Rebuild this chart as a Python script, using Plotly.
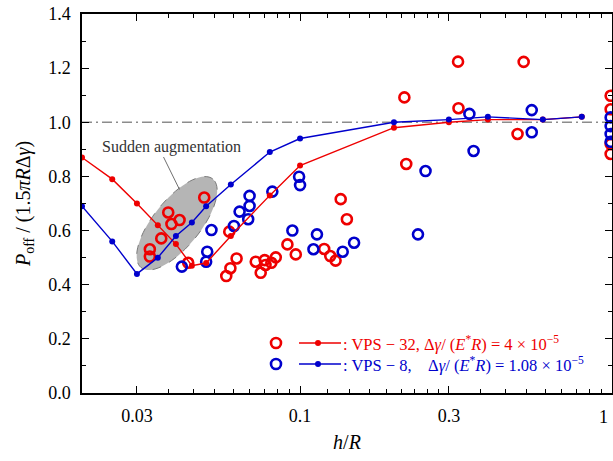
import math
import plotly.graph_objects as go

# ---------------- data ----------------
line_x = [0.02, 0.025, 0.03, 0.035, 0.04, 0.045, 0.05, 0.06, 0.08, 0.1, 0.2, 0.3, 0.4, 0.6, 0.8]
line_red = [0.87, 0.79, 0.70, 0.62, 0.55, 0.47, 0.48, 0.58, 0.73, 0.84, 0.98, 1.00, 1.01, 1.01, 1.02]
line_blue = [0.69, 0.56, 0.44, 0.50, 0.58, 0.63, 0.69, 0.77, 0.89, 0.94, 1.00, 1.01, 1.02, 1.01, 1.02]

red_x = [0.0493, 0.0378, 0.0411, 0.0387, 0.0359, 0.033, 0.033, 0.0438, 0.0593, 0.0626,
         0.0598, 0.058, 0.0721, 0.0748, 0.077, 0.0775, 0.0809, 0.0836, 0.0911, 0.0969,
         0.1195, 0.125, 0.130, 0.135, 0.1413, 0.216, 0.219, 0.321, 0.322, 0.521, 0.498,
         0.99, 0.99, 0.99, 0.99]
red_y = [0.722, 0.667, 0.639, 0.624, 0.571, 0.531, 0.504, 0.481, 0.596, 0.497,
         0.461, 0.432, 0.485, 0.444, 0.491, 0.473, 0.481, 0.501, 0.549, 0.512,
         0.532, 0.506, 0.489, 0.716, 0.642, 1.092, 0.846, 1.224, 1.052, 1.223, 0.957,
         1.098, 1.048, 0.92, 0.883]

blue_x = [0.0418, 0.05, 0.0504, 0.052, 0.0614, 0.064, 0.0682, 0.0689, 0.0689, 0.0815,
          0.0993, 0.1, 0.0945, 0.1104, 0.1133, 0.137, 0.149, 0.2388, 0.2525, 0.349,
          0.36, 0.553, 0.553, 0.99, 0.99, 0.99, 0.99]
blue_y = [0.467, 0.485, 0.522, 0.602, 0.617, 0.67, 0.642, 0.728, 0.691, 0.744,
          0.799, 0.768, 0.6, 0.531, 0.586, 0.522, 0.555, 0.586, 0.82, 1.031,
          0.894, 1.045, 0.963, 1.018, 0.986, 0.957, 0.928]

x_major = [0.03, 0.1, 0.3, 1]
x_major_text = ["0.03", "0.1", "0.3", ""]
x_end_label = "1"
legend_red = ": VPS − 32, Δ<i>γ</i>/ (<i>E</i><sup>*</sup><i>R</i>) = 4 × 10<sup>−5</sup>"
legend_blue = ": VPS − 8,\u00a0\u00a0\u00a0 Δ<i>γ</i>/ (<i>E</i><sup>*</sup><i>R</i>) = 1.08 × 10<sup>−5</sup>"
note_text = "Sudden augmentation"

# ---------------- style ----------------
RED = "#ee0000"
BLUE = "#0000cc"
FONT = "Liberation Serif, 'Times New Roman', 'DejaVu Serif', serif"
W, H = 613, 461
ML, MR, MT, MB = 82, 1, 14, 68
PW, PH = W - ML - MR, H - MT - MB
XMIN, XMAX = 0.02, 1.0
YMIN, YMAX = 0.0, 1.4

# minor x ticks: 8 evenly spaced between consecutive majors
x_minor = []
for a, b in zip(x_major[:-1], x_major[1:]):
    for k in range(1, 9):
        x_minor.append(a + (b - a) * k / 9)


def px_to_paper(px, py):
    return (px - ML) / PW, (MT + PH - py) / PH


def data_to_px(x, y):
    fx = (math.log10(x) - math.log10(XMIN)) / (math.log10(XMAX) - math.log10(XMIN))
    fy = (y - YMIN) / (YMAX - YMIN)
    return ML + fx * PW, MT + PH - fy * PH


fig = go.Figure()
fig.add_trace(go.Scatter(x=red_x, y=red_y, mode="markers",
                         marker=dict(symbol="circle-open", size=10, color=RED, line=dict(width=2.6)),
                         showlegend=False))
fig.add_trace(go.Scatter(x=blue_x, y=blue_y, mode="markers",
                         marker=dict(symbol="circle-open", size=10, color=BLUE, line=dict(width=2.6)),
                         showlegend=False))
fig.add_trace(go.Scatter(x=line_x, y=line_red, mode="lines+markers",
                         line=dict(color=RED, width=1.4), marker=dict(size=6, color=RED),
                         showlegend=False))
fig.add_trace(go.Scatter(x=line_x, y=line_blue, mode="lines+markers",
                         line=dict(color=BLUE, width=1.4), marker=dict(size=6, color=BLUE),
                         showlegend=False))

shapes = []
# reference line at 1.0
shapes.append(dict(type="line", xref="paper", yref="y", x0=0, x1=1, y0=1.0, y1=1.0,
                   line=dict(color="#8c8c8c", width=1.5, dash="10px,4px,2px,4px"), layer="below"))

# ellipse (rotated) around the "sudden augmentation" region
cx, cy = data_to_px(0.0403, 0.627)
a_len, b_len, ang = 57, 23.5, math.radians(51)
pts = []
for i in range(73):
    t = 2 * math.pi * i / 72
    ex = cx + a_len * math.cos(ang) * math.cos(t) - b_len * math.sin(ang) * math.sin(t)
    ey = cy - (a_len * math.sin(ang) * math.cos(t) + b_len * math.cos(ang) * math.sin(t))
    pts.append(px_to_paper(ex, ey))
path = "M " + " L ".join(f"{p[0]:.5f},{p[1]:.5f}" for p in pts) + " Z"
shapes.append(dict(type="path", xref="paper", yref="paper", path=path,
                   fillcolor="#b5b5b5", line=dict(color="#7a7a7a", width=1, dash="dash"), layer="below"))

# pointer line
p0 = px_to_paper(163.5, 157)
p1 = px_to_paper(179.5, 189.5)
shapes.append(dict(type="line", xref="paper", yref="paper", x0=p0[0], y0=p0[1], x1=p1[0], y1=p1[1],
                   line=dict(color="#707070", width=1)))

# legend symbols
for row_y, col in [(343, RED), (364, BLUE)]:
    r = 5
    c0 = px_to_paper(276 - r, row_y + r)
    c1 = px_to_paper(276 + r, row_y - r)
    shapes.append(dict(type="circle", xref="paper", yref="paper", x0=c0[0], y0=c0[1], x1=c1[0], y1=c1[1],
                       line=dict(color=col, width=2.6)))
    l0 = px_to_paper(299, row_y)
    l1 = px_to_paper(341, row_y)
    shapes.append(dict(type="line", xref="paper", yref="paper", x0=l0[0], y0=l0[1], x1=l1[0], y1=l1[1],
                       line=dict(color=col, width=1.4)))
    rd = 3
    d0 = px_to_paper(318 - rd, row_y + rd)
    d1 = px_to_paper(318 + rd, row_y - rd)
    shapes.append(dict(type="circle", xref="paper", yref="paper", x0=d0[0], y0=d0[1], x1=d1[0], y1=d1[1],
                       fillcolor=col, line=dict(color=col, width=0)))

annotations = []
tp = px_to_paper(171.5, 146.5)
annotations.append(dict(x=tp[0], y=tp[1], xref="paper", yref="paper", text=note_text, showarrow=False,
                        font=dict(family=FONT, size=16, color="#333333"), xanchor="center", yanchor="middle"))
for row_y, col, txt in [(343, RED, legend_red), (364, BLUE, legend_blue)]:
    lp = px_to_paper(341, row_y)
    annotations.append(dict(x=lp[0], y=lp[1], xref="paper", yref="paper", text=txt, showarrow=False,
                            font=dict(family=FONT, size=16.5, color=col), xanchor="left", yanchor="middle"))
# label of the last major x tick (kept inside the picture)
annotations.append(dict(x=1, y=0, xref="paper", yref="paper", text=x_end_label, showarrow=False,
                        xanchor="right", yanchor="top", xshift=-2, yshift=-12,
                        font=dict(family=FONT, size=18, color="black")))

fig.update_layout(
    width=W, height=H,
    margin=dict(l=ML, r=MR, t=MT, b=MB, autoexpand=False),
    paper_bgcolor="white", plot_bgcolor="white",
    font=dict(family=FONT, size=18, color="black"),
    shapes=shapes, annotations=annotations,
    showlegend=False,
)
fig.update_xaxes(
    type="log", range=[math.log10(XMIN), math.log10(XMAX)],
    tickmode="array", tickvals=x_major, ticktext=x_major_text,
    ticks="inside", ticklen=7, tickwidth=1.2, tickcolor="black",
    minor=dict(tickmode="array", tickvals=x_minor, ticks="inside", ticklen=4, tickwidth=1, tickcolor="black", showgrid=False),
    showline=True, linecolor="black", linewidth=1.5, mirror="allticks",
    showgrid=False, zeroline=False, automargin=False,
    tickfont=dict(family=FONT, size=18), ticklabelstandoff=6,
    title=dict(text="<i>h</i>/<i>R</i>", font=dict(family=FONT, size=20), standoff=10),
)
fig.update_yaxes(
    range=[YMIN, YMAX], dtick=0.2, tick0=0, tickformat=".1f",
    ticks="inside", ticklen=7, tickwidth=1.2, tickcolor="black",
    minor=dict(dtick=0.1, ticks="inside", ticklen=4, tickwidth=1, tickcolor="black", showgrid=False),
    showline=True, linecolor="black", linewidth=1.5, mirror="allticks",
    showgrid=False, zeroline=False, automargin=False,
    tickfont=dict(family=FONT, size=18), ticklabelstandoff=6,
    title=dict(text="<i>P</i><sub>off</sub> / (1.5<i>πR</i>Δ<i>γ</i>)", font=dict(family=FONT, size=20), standoff=12),
)

fig.write_html("out.html", config={"displayModeBar": False},
               post_script="document.body.style.margin='0';document.body.style.overflow='hidden';")
